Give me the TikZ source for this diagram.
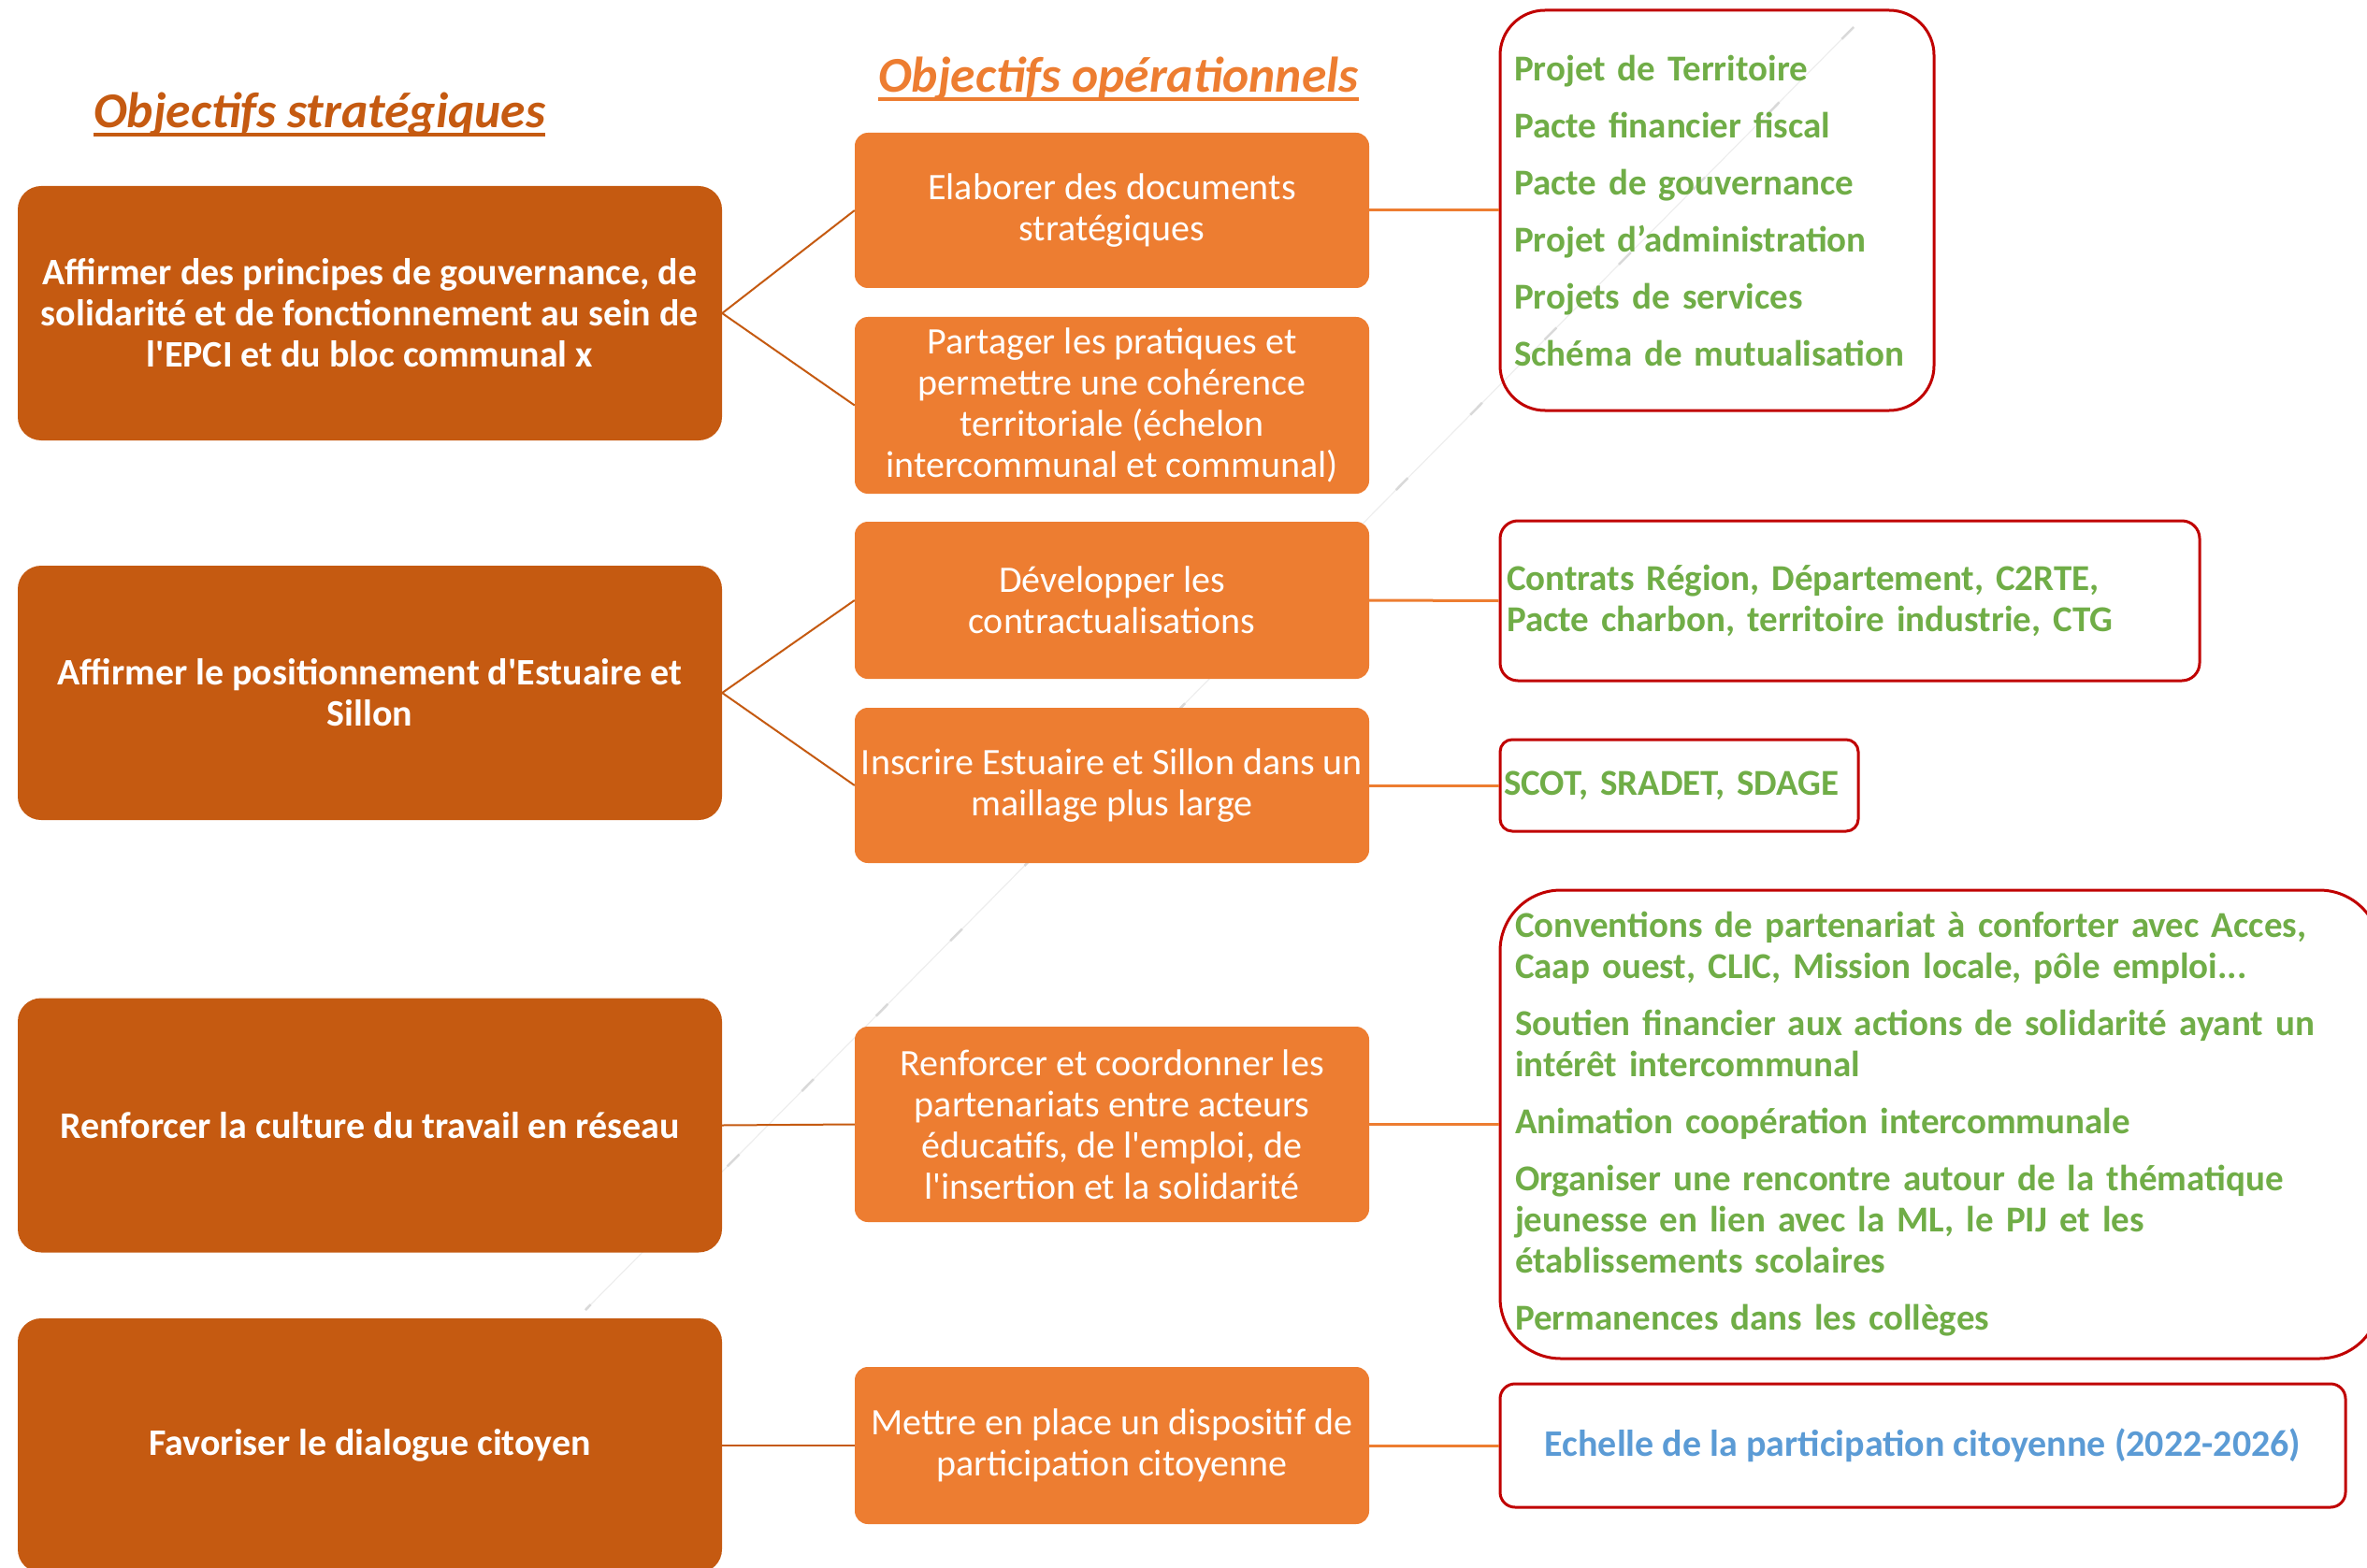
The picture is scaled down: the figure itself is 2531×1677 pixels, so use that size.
\documentclass[tikz,border=0pt]{standalone}
\usepackage{fontspec}
\setmainfont{Carlito}[Ligatures=TeXOff]
\usetikzlibrary{calc}
\definecolor{darkor}{HTML}{C55A11}
\definecolor{lightor}{HTML}{ED7D31}
\definecolor{redb}{HTML}{C00000}
\definecolor{greent}{HTML}{70AD47}
\definecolor{bluet}{HTML}{5B9BD5}
\begin{document}
\begin{tikzpicture}[x=1pt,y=-1pt,
  strat/.style={fill=darkor, rounded corners=25pt, minimum width=753pt, minimum height=272pt,
    text=white, font=\fontsize{40}{44}\selectfont\bfseries, align=center, inner sep=0pt},
  oper/.style={fill=lightor, rounded corners=14pt, minimum width=550pt,
    text=white, font=\fontsize{40}{44}\selectfont, align=center, inner sep=0pt},
  res/.style={draw=redb, line width=3pt, text=greent,
    font=\fontsize{39}{44}\selectfont\bfseries, align=left, inner ysep=0pt},
  linkA/.style={draw=darkor, line width=2pt},
  linkB/.style={draw=lightor, line width=3pt},
  ttl/.style={font=\fontsize{53.5}{60}\selectfont\bfseries\itshape, inner sep=0pt, anchor=base west}
]
\clip (0,0) rectangle (2531,1677);
\useasboundingbox (0,0) rectangle (2531,1677);

% faint artefact line
\coordinate (fa) at (1982,29);
\coordinate (fb) at (626,1401);
\draw[gray!14, line width=1.2pt] (fa) -- (fb);
\draw[gray!30, line width=2.5pt, dash pattern=on 18pt off 95pt] (fa) -- (fb);

% titles
\node[ttl, text=darkor] (t1) at (100,137) {Objectifs stratégiques};
\draw[darkor, line width=4pt] ($(t1.base west)+(0,7)$) -- ($(t1.base east)+(0,7)$);
\node[ttl, text=lightor] (t2) at (939,99) {Objectifs opérationnels};
\draw[lightor, line width=4pt] ($(t2.base west)+(0,7)$) -- ($(t2.base east)+(0,7)$);

% strategic objectives
\node[strat] (s1) at (395.5,335) {Affirmer des principes de gouvernance, de\\solidarité et de fonctionnement au sein de\\l'EPCI et du bloc communal x};
\node[strat] (s2) at (395.5,741) {Affirmer le positionnement d'Estuaire et\\Sillon};
\node[strat] (s3) at (395.5,1203.5) {Renforcer la culture du travail en réseau};
\node[strat] (s4) at (395.5,1546) {Favoriser le dialogue citoyen};

% operational objectives
\node[oper, minimum height=166pt] (m1) at (1189,225) {Elaborer des documents\\stratégiques};
\node[oper, minimum height=189pt] (m2) at (1189,433.5) {Partager les pratiques et\\permettre une cohérence\\territoriale (échelon\\intercommunal et communal)};
\node[oper, minimum height=168pt] (m3) at (1189,642) {Développer les\\contractualisations};
\node[oper, minimum height=166pt] (m4) at (1189,840) {Inscrire Estuaire et Sillon dans un\\maillage plus large};
\node[oper, minimum height=209pt] (m5) at (1189,1202.5) {Renforcer et coordonner les\\partenariats entre acteurs\\éducatifs, de l'emploi, de\\l'insertion et la solidarité};
\node[oper, minimum height=168pt] (m6) at (1189,1546) {Mettre en place un dispositif de\\participation citoyenne};

% results
\node[res, rounded corners=48pt, minimum height=428pt, inner xsep=15pt, text width=434pt] (r1) at (1836,225)
  {Projet de Territoire\\[17pt]Pacte financier fiscal\\[17pt]Pacte de gouvernance\\[17pt]Projet d’administration\\[17pt]Projets de services\\[17pt]Schéma de mutualisation};
\node[res, rounded corners=19pt, minimum height=171pt, inner xsep=7pt, text width=734pt] (r2) at (1978,642.5)
  {Contrats Région, Département, C2RTE,\\Pacte charbon, territoire industrie, CTG};
\node[res, rounded corners=13pt, minimum height=98pt, inner xsep=4pt, text width=375pt] (r3) at (1795.5,840)
  {SCOT, SRADET, SDAGE};
\node[res, rounded corners=65pt, minimum height=501pt, inner xsep=16pt, text width=909pt] (r4) at (2074.5,1202.5)
  {Conventions de partenariat à conforter avec Acces,\\Caap ouest, CLIC, Mission locale, pôle emploi...\\[17pt]Soutien financier aux actions de solidarité ayant un\\intérêt intercommunal\\[17pt]Animation coopération intercommunale\\[17pt]Organiser une rencontre autour de la thématique\\jeunesse en lien avec la ML, le PIJ et les\\établissements scolaires\\[17pt]Permanences dans les collèges};
\node[res, rounded corners=16pt, minimum width=904pt, minimum height=132pt, text=bluet, align=center,
  font=\fontsize{40}{44}\selectfont\bfseries] (r5) at (2056,1546)
  {Echelle de la participation citoyenne (2022-2026)};

% connectors
\draw[linkA] (s1.east) -- (m1.west);
\draw[linkA] (s1.east) -- (m2.west);
\draw[linkA] (s2.east) -- (m3.west);
\draw[linkA] (s2.east) -- (m4.west);
\draw[linkA] (s3.east) -- (m5.west);
\draw[linkA] (s4.east) -- (m6.west);
\draw[linkB] (m1.east) -- (r1.west);
\draw[linkB] (m3.east) -- (r2.west);
\draw[linkB] (m4.east) -- (r3.west);
\draw[linkB] (m5.east) -- (r4.west);
\draw[linkB] (m6.east) -- (r5.west);
\end{tikzpicture}
\end{document}
